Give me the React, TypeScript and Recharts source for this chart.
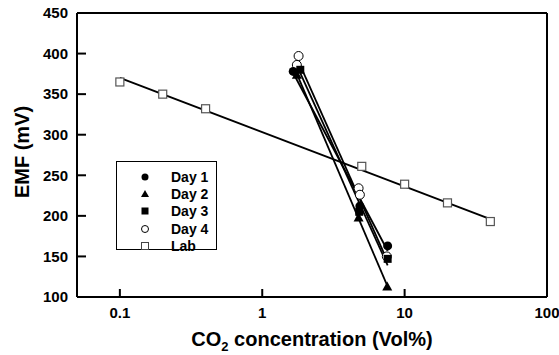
import React from "react";
import {
  ComposedChart,
  Scatter,
  XAxis,
  YAxis,
  ReferenceLine,
  Legend,
  Label,
} from "recharts";

const FONT = "'Liberation Sans', Arial, Helvetica, sans-serif";

// Lab calibration points and its regression line
const labConc = [0.1, 0.2, 0.4, 5, 10, 20, 40];
const labEmf = [365, 350, 332, 261, 239, 216, 193];
const labFitConc = [0.1, 40];
const labFitEmf = [370, 196];

// Field measurements, one set per day
const day1Conc = [1.65, 4.85, 7.6];
const day1Emf = [378, 212, 163];
const day2Conc = [1.75, 4.75, 7.55];
const day2Emf = [374, 198, 113];
const day3Conc = [1.85, 4.8, 7.6];
const day3Emf = [380, 205, 147];
const day4Conc = [1.8, 1.75, 4.75, 4.85, 7.5];
const day4Emf = [397, 386, 234, 226, 150];

// Fitted lines for each day (end points)
const day1FitConc = [1.65, 7.6];
const day1FitEmf = [376, 157];
const day2FitConc = [1.75, 7.55];
const day2FitEmf = [375, 114];
const day3FitConc = [1.85, 7.6];
const day3FitEmf = [376, 139];
const day4FitConc = [1.78, 7.5];
const day4FitEmf = [392, 146];

const xTicks = [0.1, 1, 10, 100];
const yTicks = [100, 150, 200, 250, 300, 350, 400, 450];

const toPoints = (xs: number[], ys: number[]) =>
  xs.map((conc, i) => ({ conc, emf: ys[i] }));

// marker shapes
const DotFilled = (p: any) => <circle cx={p.cx} cy={p.cy} r={4.5} fill="#000" />;
const TriFilled = (p: any) => (
  <polygon
    points={`${p.cx},${p.cy - 5} ${p.cx + 5},${p.cy + 4} ${p.cx - 5},${p.cy + 4}`}
    fill="#000"
  />
);
const SquareFilled = (p: any) => (
  <rect x={p.cx - 4} y={p.cy - 4} width={8} height={8} fill="#000" />
);
const DotOpen = (p: any) => (
  <circle cx={p.cx} cy={p.cy} r={4.5} fill="#fff" stroke="#000" strokeWidth={1} />
);
const SquareOpen = (p: any) => (
  <rect
    x={p.cx - 4}
    y={p.cy - 4}
    width={8}
    height={8}
    fill="#fff"
    stroke="#555"
    strokeWidth={1.2}
  />
);
const NoDot = () => <g />;

const legendItems = [
  { name: "Day 1", icon: "dot" },
  { name: "Day 2", icon: "tri" },
  { name: "Day 3", icon: "square" },
  { name: "Day 4", icon: "ring" },
  { name: "Lab", icon: "box" },
];

const LegendIcon = ({ icon }: { icon: string }) => {
  const c = 6;
  if (icon === "dot") return <circle cx={c} cy={c} r={3.5} fill="#000" />;
  if (icon === "tri")
    return <polygon points={`${c},${c - 4} ${c + 4},${c + 3} ${c - 4},${c + 3}`} fill="#000" />;
  if (icon === "square") return <rect x={c - 3.5} y={c - 3.5} width={7} height={7} fill="#000" />;
  if (icon === "ring")
    return <circle cx={c} cy={c} r={3.5} fill="#fff" stroke="#000" strokeWidth={1} />;
  return <rect x={c - 3.5} y={c - 3.5} width={7} height={7} fill="#fff" stroke="#444" strokeWidth={1} />;
};

const LegendBox = () => (
  <div
    style={{
      width: 101,
      height: 89,
      border: "1.5px solid #000",
      background: "#fff",
      fontFamily: FONT,
      fontWeight: "bold",
      fontSize: 14,
      paddingTop: 6,
      boxSizing: "border-box",
    }}
  >
    {legendItems.map((item) => (
      <div
        key={item.name}
        style={{ display: "flex", alignItems: "center", height: 17.4 }}
      >
        <svg width={12} height={12} style={{ marginLeft: 22, marginRight: 20 }}>
          <LegendIcon icon={item.icon} />
        </svg>
        <span>{item.name}</span>
      </div>
    ))}
  </div>
);

const XTitle = (props: any) => {
  const vb = props.viewBox;
  return (
    <text
      x={vb.x + vb.width / 2}
      y={vb.y + 49}
      textAnchor="middle"
      fontFamily={FONT}
      fontWeight="bold"
      fontSize={20}
      fill="#000"
    >
      CO
      <tspan fontSize={13} dy={5}>
        2
      </tspan>
      <tspan dy={-5}> concentration (Vol%)</tspan>
    </text>
  );
};

const YTitle = (props: any) => {
  const vb = props.viewBox;
  const x = 22;
  const y = vb.y + vb.height / 2 - 3;
  return (
    <text
      x={x}
      y={y}
      transform={`rotate(-90, ${x}, ${y})`}
      textAnchor="middle"
      dominantBaseline="central"
      fontFamily={FONT}
      fontWeight="bold"
      fontSize={20}
      fill="#000"
    >
      EMF (mV)
    </text>
  );
};

const axisLine = { stroke: "#000", strokeWidth: 2 };

export default function App() {
  return (
    <div style={{ position: "absolute", left: 0, top: 0, background: "#fff" }}>
      <ComposedChart
        width={559}
        height={355}
        margin={{ top: 13, right: 12, bottom: 0, left: 0 }}
      >
        <XAxis
          dataKey="conc"
          type="number"
          scale="log"
          domain={[0.05, 100]}
          allowDataOverflow
          ticks={xTicks}
          tickFormatter={(v: number) => String(v)}
          height={58}
          axisLine={axisLine}
          tickLine={{ stroke: "#000", strokeWidth: 2 }}
          tickSize={-8}
          tickMargin={18}
          tick={{ fill: "#000", fontSize: 15, fontWeight: "bold", fontFamily: FONT }}
        >
          <Label content={XTitle} />
        </XAxis>
        <YAxis
          dataKey="emf"
          type="number"
          domain={[100, 450]}
          ticks={yTicks}
          width={77}
          axisLine={axisLine}
          tickLine={{ stroke: "#000", strokeWidth: 2 }}
          tickSize={-9}
          tickMargin={18}
          tick={{ fill: "#000", fontSize: 15, fontWeight: "bold", fontFamily: FONT }}
        >
          <Label content={YTitle} />
        </YAxis>
        <ReferenceLine y={450} stroke="#000" strokeWidth={2} />
        <ReferenceLine x={100} stroke="#000" strokeWidth={2} />

        <Scatter
          data={toPoints(labFitConc, labFitEmf)}
          line={{ stroke: "#000", strokeWidth: 2 }}
          shape={NoDot}
          isAnimationActive={false}
        />
        <Scatter
          data={toPoints(day1FitConc, day1FitEmf)}
          line={{ stroke: "#000", strokeWidth: 1.8 }}
          shape={NoDot}
          isAnimationActive={false}
        />
        <Scatter
          data={toPoints(day2FitConc, day2FitEmf)}
          line={{ stroke: "#000", strokeWidth: 1.8 }}
          shape={NoDot}
          isAnimationActive={false}
        />
        <Scatter
          data={toPoints(day3FitConc, day3FitEmf)}
          line={{ stroke: "#000", strokeWidth: 1.8 }}
          shape={NoDot}
          isAnimationActive={false}
        />
        <Scatter
          data={toPoints(day4FitConc, day4FitEmf)}
          line={{ stroke: "#000", strokeWidth: 1.8 }}
          shape={NoDot}
          isAnimationActive={false}
        />

        <Scatter data={toPoints(labConc, labEmf)} shape={SquareOpen} isAnimationActive={false} />
        <Scatter data={toPoints(day4Conc, day4Emf)} shape={DotOpen} isAnimationActive={false} />
        <Scatter data={toPoints(day3Conc, day3Emf)} shape={SquareFilled} isAnimationActive={false} />
        <Scatter data={toPoints(day2Conc, day2Emf)} shape={TriFilled} isAnimationActive={false} />
        <Scatter data={toPoints(day1Conc, day1Emf)} shape={DotFilled} isAnimationActive={false} />

        <Legend
          layout="vertical"
          align="center"
          verticalAlign="middle"
          content={LegendBox}
          wrapperStyle={{ left: 116, top: 161, width: 104, height: 92 }}
        />
      </ComposedChart>
    </div>
  );
}
